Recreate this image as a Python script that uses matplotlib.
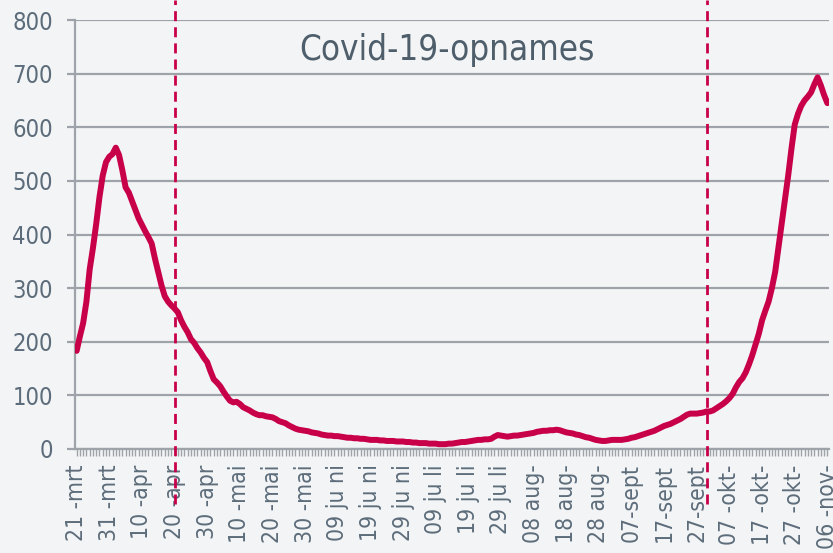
import numpy as np
import matplotlib.pyplot as plt
from matplotlib.ticker import MultipleLocator

plt.rcParams['font.family'] = ['DejaVu Sans']
plt.rcParams['font.stretch'] = 'condensed'

# Covid-19-opnames per dag, 21 maart t/m 6 november
opnames = [
    183, 210, 235, 275, 335, 375, 420, 470, 510, 535,
    545, 550, 562, 548, 520, 488, 478, 462, 446, 430,
    418, 406, 395, 383, 355, 330, 305, 285, 275, 268,
    262, 255, 240, 228, 218, 205, 198, 188, 180, 170,
    162, 145, 130, 124, 117, 107, 98, 90, 87, 88,
    84, 78, 75, 72, 68, 65, 63, 63, 61, 60,
    59, 56, 52, 50, 48, 44, 41, 38, 36, 35,
    34, 33, 31, 30, 29, 27, 26, 25, 25, 24,
    24, 23, 22, 21, 21, 20, 20, 19, 19, 18,
    17, 17, 17, 16, 16, 15, 15, 15, 14, 14,
    14, 13, 13, 12, 12, 11, 11, 11, 10, 10,
    10, 9, 9, 9, 10, 10, 11, 12, 13, 13,
    14, 15, 16, 17, 17, 18, 18, 19, 23, 26,
    25, 24, 23, 24, 25, 25, 26, 27, 28, 29,
    30, 32, 33, 34, 34, 35, 35, 36, 35, 33,
    31, 30, 29, 27, 26, 24, 22, 21, 19, 17,
    16, 15, 15, 16, 17, 17, 17, 17, 18, 19,
    21, 22, 24, 26, 28, 30, 32, 34, 37, 40,
    43, 45, 47, 50, 53, 56, 60, 64, 66, 66,
    66, 67, 68, 70, 70, 72, 76, 80, 84, 89,
    95, 103, 115, 125, 132, 143, 158, 175, 195, 215,
    240, 258, 275, 300, 330, 375, 420, 465, 510, 560,
    605, 625, 640, 650, 657, 665, 680, 693, 678, 660,
    645,
]

labels = ["21 -mrt", "31 -mrt", "10 -apr", "20 -apr", "30 -apr", "10 -mai",
          "20 -mai", "30 -mai", "09 ju ni", "19 ju ni", "29 ju ni", "09 ju li",
          "19 ju li", "29 ju li", "08 aug-", "18 aug-", "28 aug-", "07-sept",
          "17-sept", "27-sept", "07 -okt-", "17 -okt-", "27 -okt-", "06 -nov-"]

markeringen = [30, 193]  # 20 april en 30 september

rood = '#C8004A'
grijs = '#9EA3A9'
tekst = '#5C6C7A'
achtergrond = '#F3F4F6'

dagen = np.arange(len(opnames))

fig = plt.figure(figsize=(8.33, 5.53), dpi=100, facecolor=achtergrond)
ax = fig.add_axes([75/833, 1 - 449/553, 754/833, 429/553])
ax.set_facecolor(achtergrond)

ax.plot(dagen, opnames, color=rood, lw=4.3, solid_capstyle='round', zorder=3)

for d in markeringen:
    ax.axvline(d, ymin=-55/429, ymax=449/429, color=rood, lw=2, ls=(0, (3.6, 2.2)),
               clip_on=False, zorder=4)

ax.set_xlim(-0.5, len(opnames) - 0.5)
ax.set_ylim(0, 800)
ax.yaxis.set_major_locator(MultipleLocator(100))
ax.set_xticks(dagen[::10])
ax.set_xticklabels(labels, rotation=90, va='top', ha='center')
ax.xaxis.set_minor_locator(MultipleLocator(1))

ax.grid(axis='y', color=grijs, lw=1.6, zorder=1)
for s in ['top', 'right']:
    ax.spines[s].set_visible(False)
ax.spines['left'].set_color(grijs)
ax.spines['left'].set_linewidth(1.6)
ax.spines['bottom'].set_color(grijs)
ax.spines['bottom'].set_linewidth(1.6)

ax.tick_params(axis='x', which='both', length=5, width=1, color=grijs,
               labelsize=16.5, labelcolor=tekst, pad=6)
ax.tick_params(axis='y', length=6, width=1.6, color=grijs,
               labelsize=17, labelcolor=tekst, pad=10)

ax.text(0.493, 0.93, 'Covid-19-opnames', transform=ax.transAxes,
        ha='center', va='center', fontsize=25, color='#4E5E6B')

fig.savefig('out.png', dpi=100, facecolor=achtergrond)
